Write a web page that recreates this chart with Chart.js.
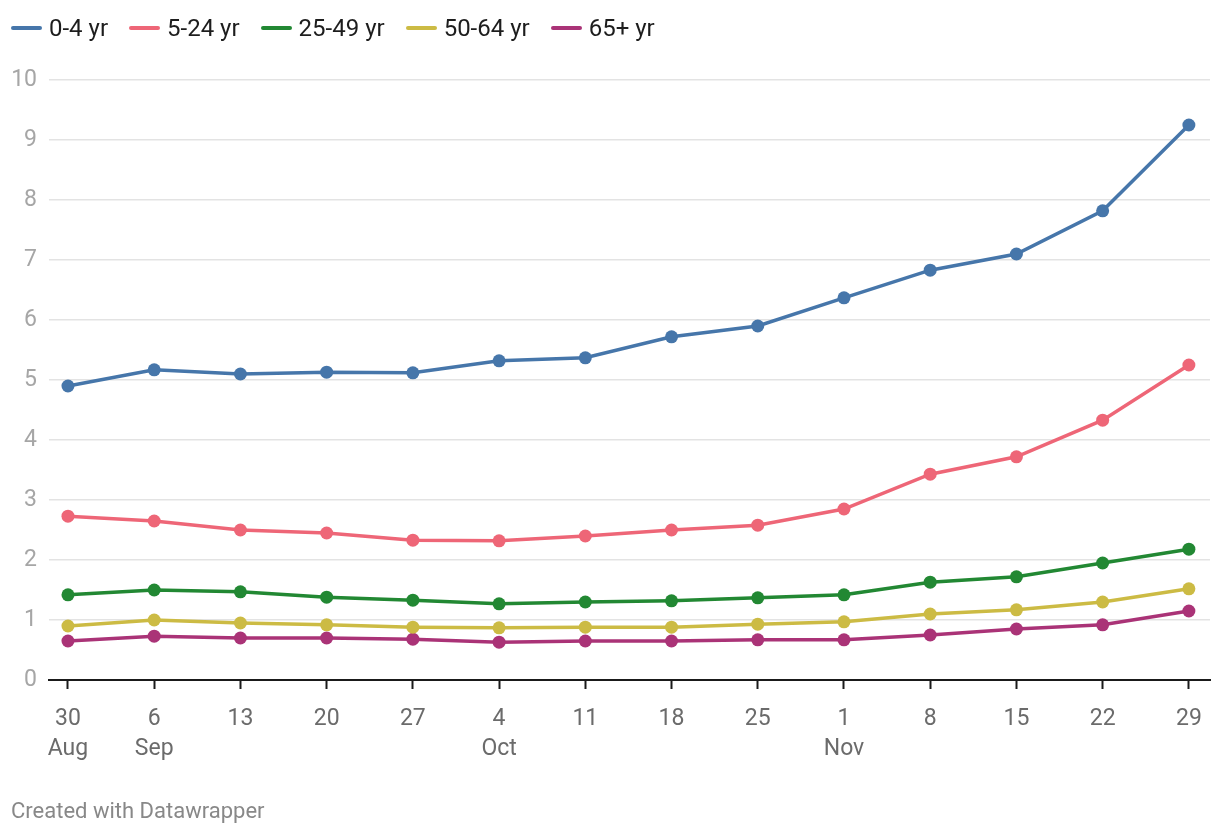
<!DOCTYPE html>
<html>
<head>
<meta charset="utf-8">
<script src="https://cdn.jsdelivr.net/npm/chart.js@4.4.0/dist/chart.umd.min.js"></script>
<style>
  body { margin: 0; background: #fff; font-family: Roboto, sans-serif; }
  #wrap { position: relative; width: 1220px; height: 836px; }
  #legend { position: absolute; left: 11px; top: 14px; display: flex; font-size: 24px; color: #1d1d1d; line-height: 28px; }
  #legend .item { display: flex; align-items: center; margin-right: 21px; }
  #legend .swatch { width: 31px; height: 4px; border-radius: 2px; margin-right: 7px; }
  #footer { position: absolute; left: 11px; top: 798px; font-size: 22px; color: #888; }
</style>
</head>
<body>
<div id="wrap">
  <canvas id="chart" width="1220" height="836"></canvas>
  <div id="legend"></div>
  <div id="footer">Created with Datawrapper</div>
</div>
<script>
const weeks = [['30', 'Aug'], ['6', 'Sep'], '13', '20', '27', ['4', 'Oct'], '11', '18', '25', ['1', 'Nov'], '8', '15', '22', '29']

const age0to4 = [4.9, 5.17, 5.1, 5.13, 5.12, 5.32, 5.37, 5.72, 5.9, 6.37, 6.83, 7.1, 7.82, 9.25]
const age5to24 = [2.73, 2.65, 2.5, 2.45, 2.33, 2.32, 2.4, 2.5, 2.58, 2.85, 3.43, 3.72, 4.33, 5.25]
const age25to49 = [1.42, 1.5, 1.47, 1.38, 1.33, 1.27, 1.3, 1.32, 1.37, 1.42, 1.63, 1.72, 1.95, 2.18]
const age50to64 = [0.9, 1.0, 0.95, 0.92, 0.88, 0.87, 0.88, 0.88, 0.93, 0.97, 1.1, 1.17, 1.3, 1.52]
const age65plus = [0.65, 0.73, 0.7, 0.7, 0.68, 0.63, 0.65, 0.65, 0.67, 0.67, 0.75, 0.85, 0.92, 1.15]

const yTicks = [0, 1, 2, 3, 4, 5, 6, 7, 8, 9, 10]

function series(label, values, color) {
  return {
    label: label,
    data: values.map((v, i) => ({ x: i, y: v })),
    borderColor: color,
    backgroundColor: color,
    borderWidth: 3.5,
    pointRadius: 6.5,
    pointHoverRadius: 6.5,
    pointBorderWidth: 0,
    tension: 0
  }
}

const chart = new Chart(document.getElementById('chart'), {
  type: 'line',
  data: {
    datasets: [
      series('0-4 yr', age0to4, '#4676aa'),
      series('5-24 yr', age5to24, '#ee6677'),
      series('25-49 yr', age25to49, '#228833'),
      series('50-64 yr', age50to64, '#ccbb44'),
      series('65+ yr', age65plus, '#aa3377')
    ]
  },
  options: {
    responsive: false,
    animation: false,
    layout: { padding: { left: 0, right: 10, top: 80, bottom: 0 } },
    plugins: {
      tooltip: { enabled: false },
      legend: { display: false }
    },
    scales: {
      x: {
        type: 'linear',
        min: -0.22,
        max: 13.245,
        afterBuildTicks(scale) {
          scale.ticks = weeks.map((w, i) => ({ value: i }))
        },
        afterFit(scale) { scale.height = 156 },
        border: { display: true, color: '#1a1a1a', width: 2 },
        grid: {
          drawOnChartArea: false,
          drawTicks: true,
          tickLength: 9,
          tickWidth: 2,
          color: '#1a1a1a'
        },
        ticks: {
          autoSkip: false,
          maxRotation: 0,
          padding: 15,
          color: '#6b6b6b',
          font: { family: 'Roboto', size: 23, lineHeight: 1.3 },
          callback: v => weeks[v]
        }
      },
      y: {
        min: 0,
        max: 10,
        afterBuildTicks(scale) {
          scale.ticks = yTicks.map(v => ({ value: v }))
        },
        afterFit(scale) { scale.width = 49 },
        border: { display: false },
        grid: {
          color: '#e3e3e3',
          lineWidth: 1.5,
          drawTicks: false
        },
        ticks: {
          padding: 12,
          color: '#a6a6a6',
          font: { family: 'Roboto', size: 23 }
        }
      }
    }
  }
})

// legend as plain html, built from the datasets
const legend = document.getElementById('legend')
for (let ds of chart.data.datasets) {
  legend.innerHTML += `
    <div class="item">
      <span class="swatch" style="background:${ds.borderColor}"></span>
      <span>${ds.label}</span>
    </div>`
}
</script>
</body>
</html>
